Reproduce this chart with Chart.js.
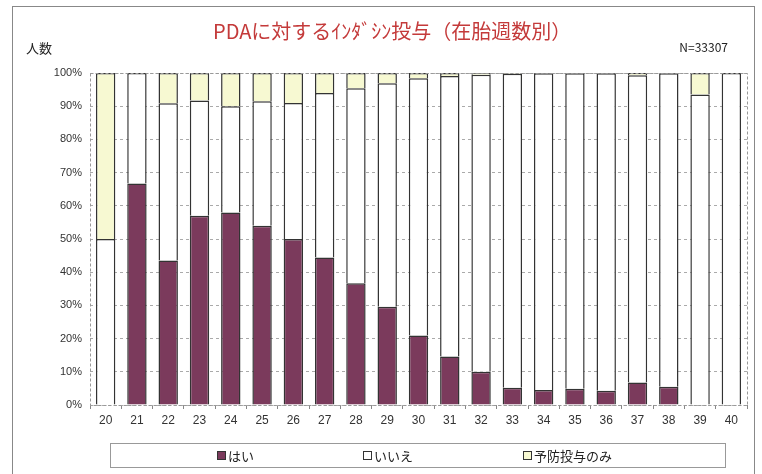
<!DOCTYPE html>
<html>
<head>
<meta charset="utf-8">
<script src="https://cdn.jsdelivr.net/npm/chart.js@4"></script>
<style>
  body { margin: 0; background: #fff; }
  #wrap { position: relative; width: 762px; height: 474px; overflow: hidden;
    font-family: "Liberation Sans Narrow", "Liberation Sans", "Noto Sans CJK JP", sans-serif; }
  #frame { position: absolute; left: 12px; top: 6px; width: 741px; height: 480px; border: 1px solid #888; }
  canvas { position: absolute; left: 0; top: 0; }
  .txt { position: absolute; font-family: "Liberation Sans Narrow", "Noto Sans CJK JP", sans-serif; color: #222; }
  #title { left: 213px; top: 16px; font-size: 20px; color: #c43a3a; white-space: nowrap; }
  #ylab { left: 26px; top: 38px; font-size: 13px; }
  #ntot { right: 34px; top: 38px; font-size: 12px; }
  #legend { position: absolute; left: 110px; top: 443px; width: 614px; height: 23px; border: 1px solid #999;
    font-family: "Noto Sans CJK JP", sans-serif; font-size: 13px; color: #222; }
  #legend span { position: absolute; top: 2px; }
  #legend i { display: inline-block; width: 7px; height: 7px; border: 1px solid #333; margin-right: 2px; vertical-align: 1px; }
</style>
</head>
<body>
<div id="wrap">
  <div id="frame"></div>
  <canvas id="c" width="762" height="474"></canvas>
  <div class="txt" id="title">PDAに対するｲﾝﾀﾞｼﾝ投与（在胎週数別）</div>
  <div class="txt" id="ylab">人数</div>
  <div class="txt" id="ntot">N=33307</div>
  <div id="legend"></div>
</div>
<script>
const weeks = ['20','21','22','23','24','25','26','27','28','29','30','31','32','33','34','35','36','37','38','39','40'];
const hai    = [0, 66.7, 43.5, 57.0, 58.0, 54.0, 50.0, 44.4, 36.7, 29.6, 20.9, 14.6, 10.0, 5.2, 4.5, 4.9, 4.3, 6.8, 5.5, 0, 0];
const yobou  = [50, 0, 9.1, 8.3, 10.0, 8.5, 9.0, 6.0, 4.6, 3.1, 1.6, 0.9, 0.5, 0.2, 0.1, 0.1, 0.1, 0.7, 0.1, 6.5, 0];
const iie    = hai.map((h, i) => +(100 - h - yobou[i]).toFixed(1));
const seriesNames = ['はい', 'いいえ', '予防投与のみ'];
const seriesColors = ['#7b3a5c', '#ffffff', '#f7f9d2'];
const yTicks = [0, 10, 20, 30, 40, 50, 60, 70, 80, 90, 100];

const legend = document.getElementById('legend');
[106, 252, 412].forEach((x, i) => {
  const s = document.createElement('span');
  s.style.left = x + 'px';
  s.innerHTML = '<i style="background:' + seriesColors[i] + '"></i>' + seriesNames[i];
  legend.appendChild(s);
});

// dashed frame round the plot area, like the original
const areaBorder = {
  id: 'areaBorder',
  afterDraw(chart) {
    const a = chart.chartArea, ctx = chart.ctx;
    ctx.save();
    ctx.strokeStyle = '#999';
    ctx.lineWidth = 1;
    ctx.setLineDash([3, 2]);
    ctx.strokeRect(a.left + 0.5, a.top + 0.5, a.right - a.left, a.bottom - a.top);
    ctx.restore();
  }
};

new Chart(document.getElementById('c'), {
  type: 'bar',
  data: {
    labels: weeks,
    datasets: [hai, iie, yobou].map((d, i) => ({
      label: seriesNames[i],
      data: d,
      backgroundColor: seriesColors[i],
      borderColor: '#333',
      borderWidth: 1.5,
      barPercentage: 0.62,
      categoryPercentage: 1.0
    }))
  },
  options: {
    responsive: false,
    animation: false,
    layout: { padding: { left: 40, right: 15, top: 73, bottom: 44 } },
    plugins: { legend: { display: false }, tooltip: { enabled: false } },
    scales: {
      x: {
        stacked: true,
        grid: { display: true, drawOnChartArea: false, offset: true, tickLength: 4, color: '#888' },
        border: { display: false },
        ticks: { color: '#333', font: { family: 'Liberation Sans Narrow, Liberation Sans', size: 12 }, padding: 4, maxRotation: 0 },
        afterFit(s) { s.height = 25; }
      },
      y: {
        stacked: true,
        min: 0, max: 100,
        afterBuildTicks(s) { s.ticks = yTicks.map(v => ({ value: v })); },
        grid: { color: '#aaa', tickLength: 0, lineWidth: 1 },
        border: { display: false, dash: [3, 3] },
        ticks: { color: '#333', font: { family: 'Liberation Sans Narrow, Liberation Sans', size: 11 }, padding: 8,
          callback: v => v + '%' },
        afterFit(s) { s.width = 50; }
      }
    }
  },
  plugins: [areaBorder]
});
</script>
</body>
</html>
